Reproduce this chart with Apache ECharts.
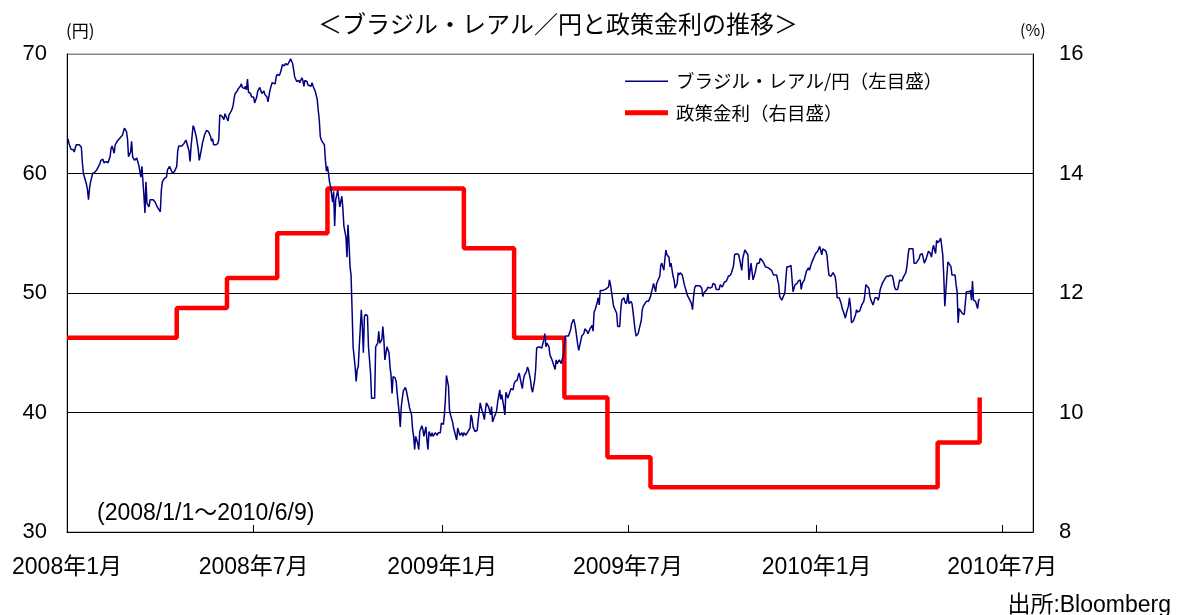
<!DOCTYPE html>
<html><head><meta charset="utf-8">
<script src="https://cdn.jsdelivr.net/npm/echarts@6/dist/echarts.min.js"></script>
<style>html,body{margin:0;padding:0;background:#fff}#c{width:1179px;height:615px}</style>
</head><body><div id="c"></div>
<script>
const FONT = "'Liberation Sans', 'Noto Sans CJK JP', sans-serif";
const JP = "'Noto Sans CJK JP', 'Liberation Sans', sans-serif";

const titleText = '＜ブラジル・レアル／円と政策金利の推移＞';
const fxName = 'ブラジル・レアル/円（左目盛）';
const rateName = '政策金利（右目盛）';
const xRange = ['2008-01-01', '2010-07-31'];
const xTickDates = ['2008-01-01','2008-07-01','2009-01-01','2009-07-01','2010-01-01','2010-07-01'];
const leftAxisRange = [30, 70, 10];
const rightAxisRange = [8, 16, 2];

// Brazil policy rate (Selic), %: [effective date, level]
const policyRate = [
  ['2008-01-01',11.25],['2008-04-17',11.75],['2008-06-05',12.25],['2008-07-24',13.00],
  ['2008-09-11',13.75],['2009-01-22',12.75],['2009-03-12',11.25],['2009-04-30',10.25],
  ['2009-06-11',9.25],['2009-07-23',8.75],['2010-04-29',9.50],['2010-06-09',10.25]
];

// BRL/JPY (yen per real)
const fx2008 = [
['2008-01-02',62.9],['2008-01-03',62.5],['2008-01-04',62.4],['2008-01-05',62.0],['2008-01-07',62.0],['2008-01-08',61.8],['2008-01-10',62.4],['2008-01-13',62.4],['2008-01-15',62.2],['2008-01-16',60.9],['2008-01-17',60.0],['2008-01-18',59.9],['2008-01-20',59.1],['2008-01-21',58.6],['2008-01-22',57.8],['2008-01-23',58.8],['2008-01-24',59.3],['2008-01-26',60.0],['2008-01-28',60.1],['2008-01-30',60.3],
['2008-02-02',60.8],['2008-02-03',61.1],['2008-02-05',61.2],['2008-02-06',60.9],['2008-02-08',61.0],['2008-02-10',60.9],['2008-02-12',61.4],['2008-02-13',62.1],['2008-02-14',62.3],['2008-02-16',61.7],['2008-02-17',62.4],['2008-02-19',62.7],['2008-02-21',62.9],['2008-02-24',63.2],['2008-02-26',63.8],['2008-02-27',63.9],['2008-02-28',63.5],['2008-02-29',62.9],
['2008-03-01',61.4],['2008-03-03',61.8],['2008-03-04',62.7],['2008-03-05',61.4],['2008-03-07',61.1],['2008-03-09',61.3],['2008-03-11',60.7],['2008-03-12',60.2],['2008-03-13',59.7],['2008-03-14',60.6],['2008-03-16',58.2],['2008-03-17',56.7],['2008-03-18',59.3],['2008-03-19',57.5],['2008-03-21',57.2],['2008-03-22',57.8],['2008-03-25',57.8],['2008-03-27',57.6],['2008-03-29',57.2],
['2008-04-01',56.8],['2008-04-02',58.6],['2008-04-03',59.3],['2008-04-05',59.6],['2008-04-07',59.7],['2008-04-08',60.3],['2008-04-10',60.6],['2008-04-13',60.0],['2008-04-15',60.2],['2008-04-17',60.6],['2008-04-18',61.9],['2008-04-19',62.3],['2008-04-20',62.2],['2008-04-22',62.3],['2008-04-24',62.5],['2008-04-25',62.4],['2008-04-26',62.8],['2008-04-28',62.2],['2008-04-29',61.9],['2008-04-30',61.0],
['2008-05-01',62.3],['2008-05-03',64.0],['2008-05-04',63.8],['2008-05-06',63.1],['2008-05-08',62.0],['2008-05-09',61.1],['2008-05-11',62.0],['2008-05-12',62.5],['2008-05-14',63.2],['2008-05-16',63.6],['2008-05-18',63.5],['2008-05-20',63.1],['2008-05-21',62.7],['2008-05-22',62.9],['2008-05-23',62.4],['2008-05-25',62.4],['2008-05-27',62.5],['2008-05-28',62.8],['2008-05-29',64.9],['2008-05-31',64.8],
['2008-06-02',64.5],['2008-06-03',65.0],['2008-06-05',64.6],['2008-06-06',64.4],['2008-06-07',64.9],['2008-06-09',65.2],['2008-06-10',65.4],['2008-06-11',65.7],['2008-06-12',66.3],['2008-06-13',66.7],['2008-06-15',66.9],['2008-06-16',67.1],['2008-06-18',67.3],['2008-06-19',67.5],['2008-06-20',67.2],['2008-06-22',67.1],['2008-06-23',67.3],['2008-06-24',67.0],['2008-06-25',67.9],['2008-06-26',66.8],['2008-06-28',66.7],['2008-06-29',66.4],
['2008-07-01',66.4],['2008-07-02',65.9],['2008-07-04',66.4],['2008-07-05',66.9],['2008-07-06',67.0],['2008-07-07',67.2],['2008-07-09',66.7],['2008-07-11',66.9],['2008-07-12',66.6],['2008-07-14',66.4],['2008-07-15',66.0],['2008-07-16',65.9],['2008-07-17',67.0],['2008-07-19',67.6],['2008-07-20',67.6],['2008-07-22',67.5],['2008-07-23',68.1],['2008-07-24',68.3],['2008-07-26',68.2],['2008-07-27',68.4],['2008-07-28',68.7],['2008-07-29',69.1],['2008-07-31',69.0],
['2008-08-01',69.2],['2008-08-02',69.3],['2008-08-03',69.1],['2008-08-05',69.4],['2008-08-06',69.6],['2008-08-07',69.7],['2008-08-08',69.2],['2008-08-09',68.7],['2008-08-10',68.1],['2008-08-12',67.7],['2008-08-13',67.6],['2008-08-14',67.8],['2008-08-15',67.6],['2008-08-17',68.0],['2008-08-18',67.8],['2008-08-19',67.3],['2008-08-20',67.8],['2008-08-22',67.7],['2008-08-23',67.4],['2008-08-24',67.3],['2008-08-26',67.3],['2008-08-27',67.6],['2008-08-28',67.3],['2008-08-30',66.9],
['2008-09-01',66.2],['2008-09-02',65.3],['2008-09-03',64.5],['2008-09-04',63.1],['2008-09-05',62.8],['2008-09-06',62.8],['2008-09-08',62.4],['2008-09-09',61.1],['2008-09-10',60.2],['2008-09-11',60.6],['2008-09-12',60.0],['2008-09-13',59.3],['2008-09-14',58.9],['2008-09-16',57.6],['2008-09-17',58.5],['2008-09-18',55.6],['2008-09-19',57.8],['2008-09-21',58.6],['2008-09-22',58.5],['2008-09-23',57.2],['2008-09-25',58.1],['2008-09-26',57.1],['2008-09-27',55.6],['2008-09-29',54.7],['2008-09-30',53.0],
['2008-10-01',55.7],['2008-10-02',54.2],['2008-10-03',52.2],['2008-10-04',51.5],['2008-10-05',48.6],['2008-10-06',45.5],['2008-10-08',43.8],['2008-10-09',42.6],['2008-10-10',43.6],['2008-10-11',43.8],['2008-10-12',45.5],['2008-10-14',48.6],['2008-10-15',47.2],['2008-10-16',45.0],['2008-10-17',48.0],['2008-10-18',48.2],['2008-10-20',48.1],['2008-10-21',45.5],['2008-10-23',43.3],['2008-10-24',41.2],['2008-10-25',41.1],['2008-10-27',41.2],['2008-10-28',45.5],['2008-10-30',45.8],['2008-10-31',46.8],
['2008-11-01',45.8],['2008-11-03',46.1],['2008-11-04',47.2],['2008-11-05',46.1],['2008-11-06',44.4],['2008-11-08',45.5],['2008-11-10',45.0],['2008-11-11',43.8],['2008-11-12',43.1],['2008-11-13',41.6],['2008-11-14',43.0],['2008-11-16',42.9],['2008-11-17',42.6],['2008-11-18',41.6],['2008-11-20',39.9],['2008-11-21',38.8],['2008-11-22',40.5],['2008-11-23',41.2],['2008-11-24',41.8],['2008-11-26',42.1],['2008-11-27',41.8],['2008-11-29',40.9],['2008-11-30',40.4],
['2008-12-02',39.8],['2008-12-03',38.6],['2008-12-04',38.0],['2008-12-05',36.9],['2008-12-06',38.0],['2008-12-08',37.4],['2008-12-09',36.9],['2008-12-10',38.4],['2008-12-12',38.9],['2008-12-13',38.6],['2008-12-14',38.0],['2008-12-16',38.8],['2008-12-17',37.7],['2008-12-18',36.9],['2008-12-19',38.4],['2008-12-21',38.0],['2008-12-22',38.3],['2008-12-23',38.0],['2008-12-25',38.3],['2008-12-27',38.1],['2008-12-28',38.3],['2008-12-30',38.3],['2008-12-31',39.1]
];
const fx2009 = [
['2009-01-02',39.0],['2009-01-03',39.8],['2009-01-04',41.1],['2009-01-05',43.1],['2009-01-07',42.2],['2009-01-08',40.2],['2009-01-09',39.8],['2009-01-11',39.2],['2009-01-12',38.7],['2009-01-13',38.8],['2009-01-15',37.7],['2009-01-16',38.7],['2009-01-17',38.4],['2009-01-18',38.1],['2009-01-20',38.3],['2009-01-21',38.0],['2009-01-22',38.3],['2009-01-24',38.1],['2009-01-26',38.4],['2009-01-28',38.7],['2009-01-29',39.8],['2009-01-30',39.5],['2009-01-31',38.8],
['2009-02-02',38.4],['2009-02-04',38.5],['2009-02-05',39.4],['2009-02-07',40.8],['2009-02-08',40.4],['2009-02-10',39.8],['2009-02-11',39.4],['2009-02-12',40.2],['2009-02-13',40.8],['2009-02-15',40.5],['2009-02-17',39.8],['2009-02-18',40.5],['2009-02-19',39.2],['2009-02-21',39.7],['2009-02-22',39.9],['2009-02-23',40.2],['2009-02-24',40.9],['2009-02-26',41.9],['2009-02-27',41.1],['2009-02-28',41.5],
['2009-03-02',40.4],['2009-03-03',39.8],['2009-03-04',41.7],['2009-03-06',41.2],['2009-03-07',41.5],['2009-03-08',41.6],['2009-03-09',42.0],['2009-03-11',41.9],['2009-03-12',42.4],['2009-03-13',42.6],['2009-03-15',42.7],['2009-03-16',43.1],['2009-03-17',43.3],['2009-03-19',42.4],['2009-03-20',42.0],['2009-03-21',42.7],['2009-03-22',43.1],['2009-03-24',43.4],['2009-03-25',43.8],['2009-03-26',43.6],['2009-03-28',42.7],['2009-03-29',42.0],['2009-03-30',41.7],
['2009-04-01',42.7],['2009-04-02',43.6],['2009-04-03',45.4],['2009-04-05',45.5],['2009-04-06',45.4],['2009-04-08',45.4],['2009-04-10',46.1],['2009-04-11',46.6],['2009-04-12',45.5],['2009-04-13',45.8],['2009-04-15',45.5],['2009-04-16',44.8],['2009-04-18',44.4],['2009-04-19',44.4],['2009-04-21',43.6],['2009-04-22',44.4],['2009-04-23',44.1],['2009-04-25',44.4],['2009-04-27',44.1],['2009-04-28',44.5],['2009-04-29',44.7],
['2009-05-01',46.4],['2009-05-02',46.5],['2009-05-04',46.4],['2009-05-06',46.9],['2009-05-07',47.4],['2009-05-09',47.8],['2009-05-10',47.5],['2009-05-11',47.0],['2009-05-13',45.7],['2009-05-14',45.2],['2009-05-15',45.6],['2009-05-17',46.4],['2009-05-19',46.6],['2009-05-20',47.0],['2009-05-22',46.8],['2009-05-23',46.6],['2009-05-25',47.0],['2009-05-27',47.3],['2009-05-28',46.8],['2009-05-29',48.4],['2009-05-30',48.6],
['2009-06-01',49.2],['2009-06-02',49.6],['2009-06-03',49.0],['2009-06-04',50.2],['2009-06-06',50.2],['2009-06-09',50.3],['2009-06-10',50.4],['2009-06-12',50.5],['2009-06-13',51.1],['2009-06-14',50.7],['2009-06-15',50.1],['2009-06-17',48.9],['2009-06-18',48.7],['2009-06-20',48.3],['2009-06-21',47.2],['2009-06-23',47.2],['2009-06-24',48.6],['2009-06-25',49.4],['2009-06-27',49.6],['2009-06-28',49.3],['2009-06-29',49.1],['2009-06-30',49.3],
['2009-07-01',50.0],['2009-07-02',49.1],['2009-07-04',49.3],['2009-07-05',49.1],['2009-07-06',48.4],['2009-07-08',46.9],['2009-07-09',46.4],['2009-07-11',46.6],['2009-07-12',47.0],['2009-07-14',47.7],['2009-07-15',48.6],['2009-07-16',48.9],['2009-07-17',49.0],['2009-07-19',49.3],['2009-07-20',49.4],['2009-07-21',49.3],['2009-07-23',49.7],['2009-07-24',50.1],['2009-07-25',50.4],['2009-07-26',50.8],['2009-07-28',50.1],['2009-07-29',50.8],['2009-07-30',51.0],
['2009-08-01',51.4],['2009-08-02',52.3],['2009-08-03',52.5],['2009-08-05',51.9],['2009-08-06',52.8],['2009-08-07',53.6],['2009-08-08',53.2],['2009-08-10',53.0],['2009-08-11',52.2],['2009-08-12',52.5],['2009-08-14',51.4],['2009-08-15',51.1],['2009-08-16',50.4],['2009-08-18',50.8],['2009-08-19',51.7],['2009-08-20',51.5],['2009-08-21',51.7],['2009-08-23',51.5],['2009-08-24',51.4],['2009-08-25',50.7],['2009-08-27',50.1],['2009-08-28',49.8],['2009-08-29',49.7],['2009-08-31',49.3],
['2009-09-01',49.1],['2009-09-02',48.6],['2009-09-03',49.7],['2009-09-04',50.4],['2009-09-05',50.6],['2009-09-07',50.6],['2009-09-08',50.7],['2009-09-09',50.6],['2009-09-11',50.4],['2009-09-12',49.7],['2009-09-13',50.0],['2009-09-14',50.1],['2009-09-16',50.3],['2009-09-17',50.5],['2009-09-19',50.4],['2009-09-21',50.5],['2009-09-22',50.8],['2009-09-24',50.7],['2009-09-25',50.3],['2009-09-26',50.3],['2009-09-28',50.3],['2009-09-29',50.7],['2009-09-30',50.8],
['2009-10-01',50.5],['2009-10-03',50.9],['2009-10-04',50.8],['2009-10-05',51.0],['2009-10-07',51.4],['2009-10-09',51.5],['2009-10-10',51.7],['2009-10-12',52.3],['2009-10-13',53.2],['2009-10-15',53.3],['2009-10-17',53.2],['2009-10-18',52.8],['2009-10-20',51.9],['2009-10-21',52.9],['2009-10-23',53.6],['2009-10-24',53.5],['2009-10-26',53.2],['2009-10-27',51.1],['2009-10-28',51.2],['2009-10-29',52.5],['2009-10-31',51.1],
['2009-11-01',51.1],['2009-11-02',51.7],['2009-11-04',52.5],['2009-11-05',52.6],['2009-11-06',52.5],['2009-11-07',52.9],['2009-11-08',53.0],['2009-11-10',52.6],['2009-11-12',52.2],['2009-11-13',52.1],['2009-11-15',52.1],['2009-11-16',52.2],['2009-11-18',51.9],['2009-11-20',51.5],['2009-11-21',51.4],['2009-11-23',51.5],['2009-11-25',50.7],['2009-11-26',49.7],['2009-11-28',49.4],['2009-11-29',49.3],
['2009-12-01',50.0],['2009-12-02',51.2],['2009-12-03',52.2],['2009-12-05',52.2],['2009-12-07',52.3],['2009-12-08',52.2],['2009-12-09',50.1],['2009-12-10',50.0],['2009-12-11',50.7],['2009-12-13',50.8],['2009-12-14',51.0],['2009-12-16',51.1],['2009-12-17',50.3],['2009-12-18',50.8],['2009-12-20',51.1],['2009-12-21',51.2],['2009-12-22',51.8],['2009-12-24',52.1],['2009-12-25',51.9],['2009-12-26',52.2],['2009-12-27',52.5],['2009-12-29',52.9],['2009-12-30',53.0],['2009-12-31',53.3]
];
const fx2010 = [
['2010-01-02',53.5],['2010-01-03',53.7],['2010-01-04',53.9],['2010-01-06',53.2],['2010-01-07',53.7],['2010-01-08',53.6],['2010-01-10',53.5],['2010-01-11',53.2],['2010-01-12',52.3],['2010-01-13',51.5],['2010-01-15',51.4],['2010-01-16',51.5],['2010-01-17',51.7],['2010-01-19',51.4],['2010-01-20',50.8],['2010-01-21',49.6],['2010-01-23',49.6],['2010-01-24',49.6],['2010-01-25',49.1],['2010-01-26',48.7],['2010-01-28',48.2],['2010-01-29',47.9],['2010-01-30',48.3],
['2010-02-01',48.9],['2010-02-02',49.6],['2010-02-03',48.9],['2010-02-04',47.5],['2010-02-05',47.6],['2010-02-06',47.7],['2010-02-08',48.2],['2010-02-09',48.6],['2010-02-10',48.4],['2010-02-12',48.5],['2010-02-13',48.6],['2010-02-14',49.0],['2010-02-16',49.3],['2010-02-17',49.8],['2010-02-18',50.7],['2010-02-19',50.7],['2010-02-21',50.4],['2010-02-22',49.7],['2010-02-23',49.4],['2010-02-25',49.0],['2010-02-26',49.3],['2010-02-27',49.6],
['2010-03-01',49.6],['2010-03-02',49.4],['2010-03-03',49.7],['2010-03-04',50.3],['2010-03-06',50.8],['2010-03-07',50.7],['2010-03-08',51.1],['2010-03-10',51.4],['2010-03-12',51.4],['2010-03-14',51.5],['2010-03-16',51.4],['2010-03-17',51.0],['2010-03-18',50.5],['2010-03-19',50.3],['2010-03-21',50.3],['2010-03-22',50.7],['2010-03-23',51.1],['2010-03-25',51.0],['2010-03-26',51.1],['2010-03-27',51.4],['2010-03-29',51.7],['2010-03-30',52.2],['2010-03-31',53.0],
['2010-04-01',53.7],['2010-04-03',53.7],['2010-04-04',53.6],['2010-04-05',53.7],['2010-04-06',52.5],['2010-04-08',52.5],['2010-04-09',52.6],['2010-04-11',52.9],['2010-04-12',53.2],['2010-04-14',53.3],['2010-04-15',53.3],['2010-04-16',52.5],['2010-04-18',52.9],['2010-04-19',53.2],['2010-04-20',53.5],['2010-04-22',53.3],['2010-04-23',53.0],['2010-04-24',53.6],['2010-04-25',54.0],['2010-04-27',53.3],['2010-04-28',54.4],['2010-04-29',54.2],
['2010-05-01',54.4],['2010-05-02',54.6],['2010-05-03',54.7],['2010-05-04',53.2],['2010-05-05',51.4],['2010-05-06',48.9],['2010-05-07',50.1],['2010-05-08',51.4],['2010-05-09',52.6],['2010-05-10',52.5],['2010-05-12',52.2],['2010-05-13',51.5],['2010-05-14',51.4],['2010-05-16',51.5],['2010-05-17',50.7],['2010-05-18',50.1],['2010-05-19',47.5],['2010-05-20',48.7],['2010-05-21',48.6],['2010-05-23',48.3],['2010-05-24',48.2],['2010-05-25',48.2],['2010-05-27',50.1],['2010-05-28',50.2],['2010-05-29',50.1],['2010-05-31',50.2],
['2010-06-01',49.4],['2010-06-02',51.0],['2010-06-03',49.4],['2010-06-05',49.3],['2010-06-06',49.0],['2010-06-07',48.7],['2010-06-08',49.4],['2010-06-09',49.5]
];

function toTime(s) { const p = s.split('-').map(Number); return Date.UTC(p[0], p[1] - 1, p[2]); }
const fxData = fx2008.concat(fx2009, fx2010).map(d => [toTime(d[0]), d[1]]);
const rateData = policyRate.map(d => [toTime(d[0]), d[1]]);
const tickValues = xTickDates.map(toTime);

const chart = echarts.init(document.getElementById('c'), null, { renderer: 'canvas' });
chart.setOption({
  animation: false,
  backgroundColor: '#fff',
  title: [
    { text: titleText, left: 313, top: 7, textStyle: { fontSize: 24, fontWeight: 'normal', color: '#000', fontFamily: JP } },
    { text: '(円)', left: 61, top: 17, textStyle: { fontSize: 17, fontWeight: 'normal', color: '#000', fontFamily: JP } },
    { text: '(%)', left: 1015, top: 17, textStyle: { fontSize: 16, fontWeight: 'normal', color: '#000', fontFamily: JP } },
    { text: '(2008/1/1～2010/6/9)', left: 92, top: 497, textStyle: { fontSize: 23, fontWeight: 'normal', color: '#000', fontFamily: FONT } },
    { text: '出所:Bloomberg', right: 3, top: 589, textStyle: { fontSize: 23, fontWeight: 'normal', color: '#000', fontFamily: FONT } }
  ],
  legend: {
    data: [
      { name: fxName, icon: 'path://M0,0H43V1.5H0Z' },
      { name: rateName, icon: 'path://M0,0H43V5H0Z' }
    ],
    orient: 'vertical', left: 625, top: 72, padding: 0,
    itemWidth: 43, itemHeight: 14, itemGap: 13,
    textStyle: { fontSize: 18.5, color: '#000', fontFamily: JP, padding: [0, 0, 0, 3] }
  },
  grid: { left: 67, right: 146, top: 54, bottom: 83, show: true, borderColor: '#888', borderWidth: 1 },
  xAxis: {
    type: 'value', min: toTime(xRange[0]), max: toTime(xRange[1]),
    axisLine: { show: true, lineStyle: { color: '#000', width: 1 } },
    axisTick: { show: true, inside: true, length: 7, lineStyle: { color: '#000' }, customValues: tickValues },
    axisLabel: {
      customValues: tickValues, fontSize: 23, color: '#000', fontFamily: FONT, margin: 24,
      formatter: v => { const d = new Date(v); return d.getUTCFullYear() + '年' + (d.getUTCMonth() + 1) + '月'; }
    },
    splitLine: { show: false }, minorTick: { show: false }
  },
  yAxis: [
    {
      type: 'value', position: 'left', min: leftAxisRange[0], max: leftAxisRange[1], interval: leftAxisRange[2],
      axisLine: { show: true, lineStyle: { color: '#000' } }, axisTick: { show: false },
      axisLabel: { fontSize: 22, color: '#000', fontFamily: FONT, margin: 20 },
      splitLine: { show: true, lineStyle: { color: ['#000', '#000', '#000', '#000', '#888'], width: 1 } }
    },
    {
      type: 'value', position: 'right', min: rightAxisRange[0], max: rightAxisRange[1], interval: rightAxisRange[2],
      axisLine: { show: true, lineStyle: { color: '#000' } }, axisTick: { show: false },
      axisLabel: { fontSize: 22, color: '#000', fontFamily: FONT, margin: 26 },
      splitLine: { show: false }
    }
  ],
  series: [
    { name: rateName, type: 'line', step: 'end', yAxisIndex: 1, data: rateData, symbol: 'none', z: 2,
      lineStyle: { color: '#ff0000', width: 4.5 }, itemStyle: { color: '#ff0000' } },
    { name: fxName, type: 'line', yAxisIndex: 0, data: fxData, symbol: 'none', z: 3,
      lineStyle: { color: '#000080', width: 1.5 }, itemStyle: { color: '#000080' } }
  ]
});
</script></body></html>
